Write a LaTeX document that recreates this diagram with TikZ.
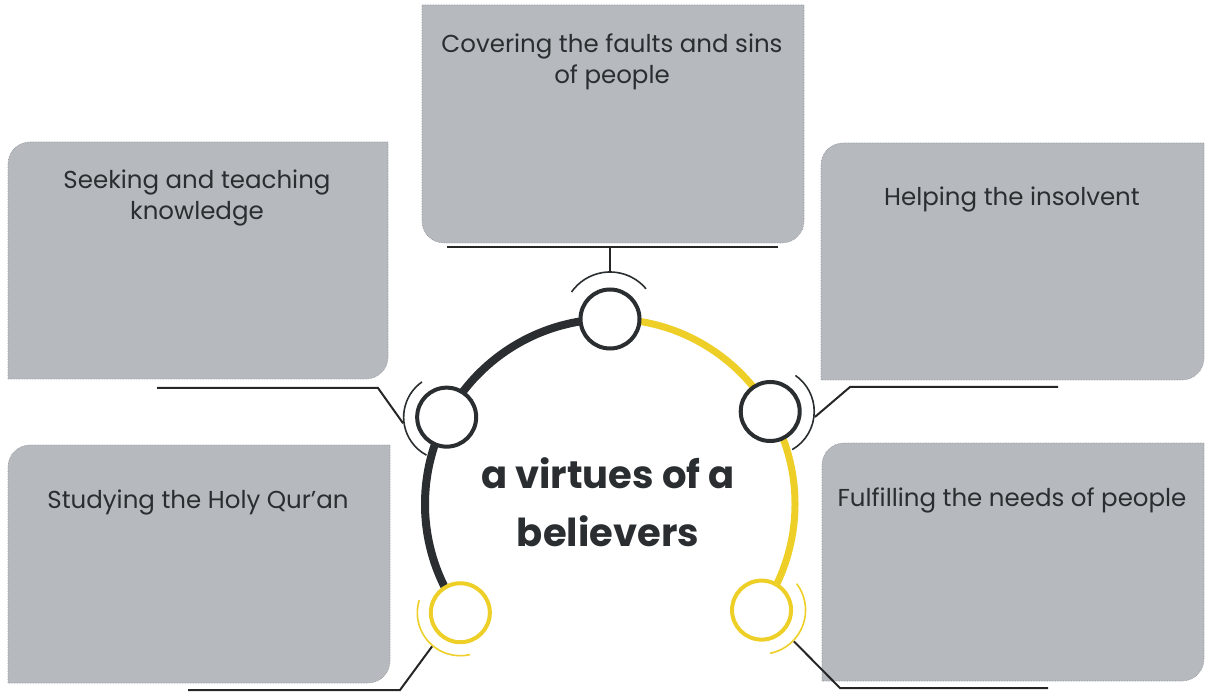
\documentclass[tikz,border=0pt]{standalone}
\usepackage{fontspec}
\setmainfont{Poppins}
\usepackage{xcolor}
\usetikzlibrary{calc}
\definecolor{cardgray}{RGB}{182,185,190}
\definecolor{cardedge}{RGB}{140,143,148}
\definecolor{inkdark}{RGB}{42,46,48}
\definecolor{sunyellow}{RGB}{238,207,40}

\begin{document}
\begin{tikzpicture}[x=1pt,y=1pt,
		card/.style={fill=cardgray, draw=cardedge, densely dotted, line width=0.6pt},
		cardtext/.style={align=center, text=inkdark, font=\fontsize{24.5}{31}\selectfont},
		ring/.style={circle, draw=#1, fill=white, line width=4pt, minimum size=59pt, inner sep=0pt},
		bracket/.style={draw=#1, line width=1.6pt},
		lead/.style={draw=black!85, line width=2pt}]
					\useasboundingbox (0,0) rectangle (1209,694);
					% grey cards
					\path[card] (422,689) -- (804,689) -- (804,473) arc (0:-90:22) -- (444,451) arc (270:180:22) -- cycle;
					\path[card] (8,315) -- (8,530) arc (180:90:22) -- (388,552) -- (388,337) arc (0:-90:22) -- cycle;
					\path[card] (821,314) -- (821,529) arc (180:90:22) -- (1204,551) -- (1204,336) arc (0:-90:22) -- cycle;
					\path[card] (8,11) -- (8,227) arc (180:90:22) -- (390,249) -- (390,33) arc (0:-90:22) -- cycle;
					\path[card] (822,13) -- (822,229) arc (180:90:22) -- (1204,251) -- (1204,35) arc (0:-90:22) -- cycle;
					% card texts
					\node[cardtext] (cover) at (612,632) {Covering the faults and sins\\of people};
					\node[cardtext] (seek) at (197,496) {Seeking and teaching\\knowledge};
					\node[cardtext] (help) at (1012,495) {Helping the insolvent};
					\node[cardtext] (study) at (198,192) {Studying the Holy Qur'an};
					\node[cardtext] (fulfil) at (1012,194) {Fulfilling the needs of people};
					% the big arc
					\coordinate (hub) at (610,190);
					\draw[inkdark, line width=8pt] ($(hub)+(216:185)$) arc (216:90:185);
					\draw[sunyellow, line width=7pt] ($(hub)+(90:185)$) arc (90:-35:185);
					% rings on the arc
					\node[ring=inkdark] (rcover) at ($(hub)+(90:185)$) {};
					\node[ring=inkdark] (rseek) at ($(hub)+(152:185)$) {};
					\node[ring=inkdark] (rhelp) at ($(hub)+(30:185)$) {};
					\node[ring=sunyellow] (rstudy) at ($(hub)+(216:185)$) {};
					\node[ring=sunyellow] (rfulfil) at ($(hub)+(-35:185)$) {};
					% thin brackets
					\draw[bracket=inkdark] ($(rcover)+(40:47)$) arc (40:145:47);
					\draw[bracket=inkdark] ($(rseek)+(125:43)$) arc (125:242:43);
					\draw[bracket=inkdark] ($(rhelp)+(-60:44)$) arc (-60:55:44);
					\draw[bracket=sunyellow] ($(rstudy)+(163:43)$) arc (163:283:43);
					\draw[bracket=sunyellow] ($(rfulfil)+(-79:44)$) arc (-79:37:44);
					% leader lines
					\coordinate (coverL) at (447,447);
					\coordinate (coverR) at (778,447);
					\coordinate (seekbend) at (378,306);
					\coordinate (seekend) at (157,306);
					\coordinate (helpbend) at (850,307);
					\coordinate (helpend) at (1058,307);
					\coordinate (studybend) at (400,4);
					\coordinate (studyend) at (188,4);
					\coordinate (fulfilbend) at (840,6);
					\coordinate (fulfilend) at (1048,6);
					\draw[lead] (coverL) -- (coverR);
					\draw[lead] ($(rcover)+(90:47)$) -- (rcover |- coverL);
					\draw[lead] ($(rseek)+(188:44)$) -- (seekbend) -- (seekend);
					\draw[lead] ($(rhelp)+(-7:45)$) -- (helpbend) -- (helpend);
					\draw[lead] ($(rstudy)+(230:44)$) -- (studybend) -- (studyend);
					\draw[lead] ($(rfulfil)+(-44:45)$) -- (fulfilbend) -- (fulfilend);
					% title
					\node[font=\fontsize{38.5}{58}\selectfont\bfseries, text=inkdark, align=center] (title) at (608,192) {a virtues of a\\believers};
				\end{tikzpicture}
\end{document}
